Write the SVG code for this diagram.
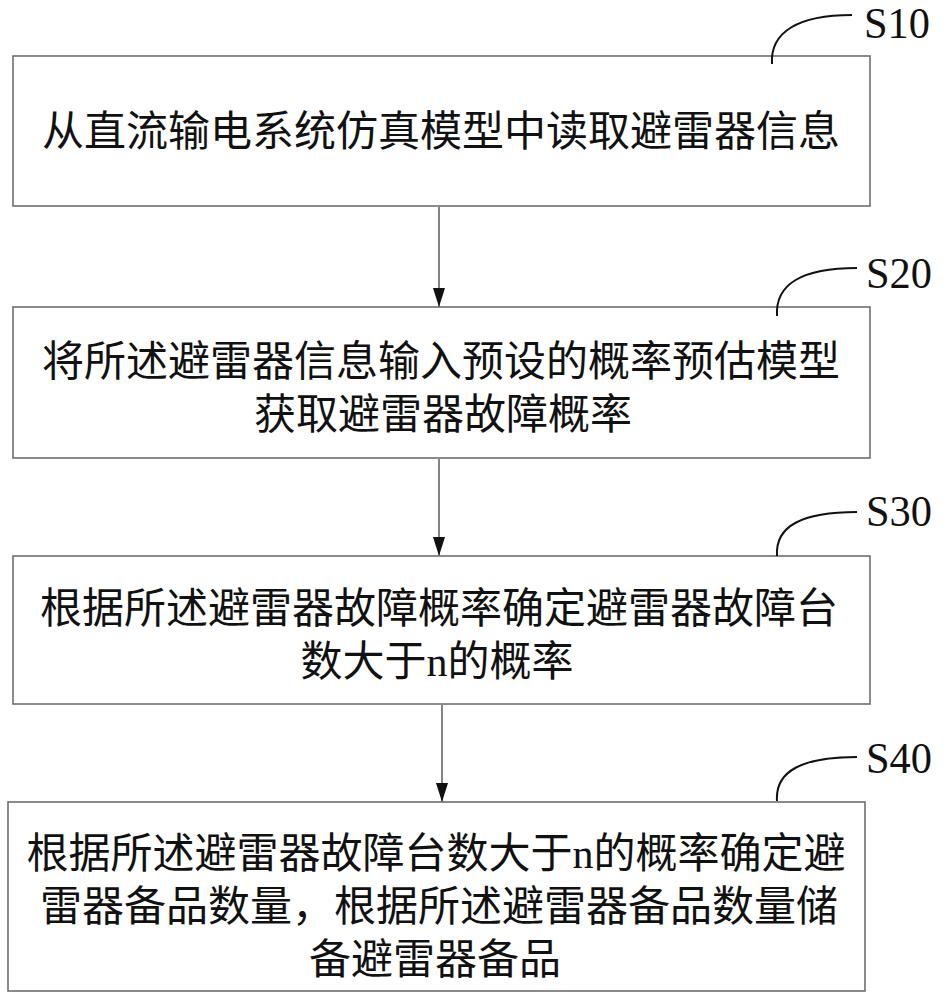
<svg xmlns="http://www.w3.org/2000/svg" width="945" height="1000" viewBox="0 0 945 1000">
<defs>
<style>
.box{fill:#fff;stroke:#6e6e6e;stroke-width:1.6}
.t{font-family:"Liberation Serif","Noto Sans CJK SC",serif;font-size:42px;fill:#111;text-anchor:middle}
.lbl{font-family:"Liberation Serif",serif;font-size:44px;fill:#111}
.lead{fill:none;stroke:#111;stroke-width:2}
.conn{stroke:#333;stroke-width:1.2;fill:none}
</style>
<marker id="ah" markerWidth="20" markerHeight="12" refX="19" refY="6" orient="auto" markerUnits="userSpaceOnUse">
<path d="M0,0 L19,6 L0,12 Z" fill="#111"/>
</marker>
</defs>
<rect width="945" height="1000" fill="#fff"/>
<g id="connectors">
<line class="conn" x1="439" y1="207" x2="439" y2="307" marker-end="url(#ah)"/>
<line class="conn" x1="439" y1="459" x2="439" y2="556" marker-end="url(#ah)"/>
<line class="conn" x1="442" y1="705" x2="442" y2="802" marker-end="url(#ah)"/>
</g>
<g id="S10">
<rect class="box" x="13" y="56" width="857" height="150"/>
<text class="t" x="441" y="146">从直流输电系统仿真模型中读取避雷器信息</text>
<path class="lead" d="M772,64 C770,32 798,15 852,15"/>
<text class="lbl" x="864" y="38" textLength="66" lengthAdjust="spacingAndGlyphs">S10</text>
</g>
<g id="S20">
<rect class="box" x="13" y="307" width="857" height="151"/>
<text class="t" x="441" y="376">将所述避雷器信息输入预设的概率预估模型</text>
<text class="t" x="443" y="429">获取避雷器故障概率</text>
<path class="lead" d="M777,316 C775,284 802,268 857,268"/>
<text class="lbl" x="866" y="288" textLength="66" lengthAdjust="spacingAndGlyphs">S20</text>
</g>
<g id="S30">
<rect class="box" x="13" y="556" width="857" height="148"/>
<text class="t" x="439" y="623">根据所述避雷器故障概率确定避雷器故障台</text>
<text class="t" x="437" y="676">数大于n的概率</text>
<path class="lead" d="M777,556 C775,526 802,512 857,512"/>
<text class="lbl" x="866" y="526" textLength="66" lengthAdjust="spacingAndGlyphs">S30</text>
</g>
<g id="S40">
<rect class="box" x="8" y="802" width="857" height="189"/>
<text class="t" x="436" y="868">根据所述避雷器故障台数大于n的概率确定避</text>
<text class="t" x="439" y="921">雷器备品数量，根据所述避雷器备品数量储</text>
<text class="t" x="435" y="974">备避雷器备品</text>
<path class="lead" d="M777,801 C775,771 802,757 857,757"/>
<text class="lbl" x="866" y="773" textLength="66" lengthAdjust="spacingAndGlyphs">S40</text>
</g>
</svg>
